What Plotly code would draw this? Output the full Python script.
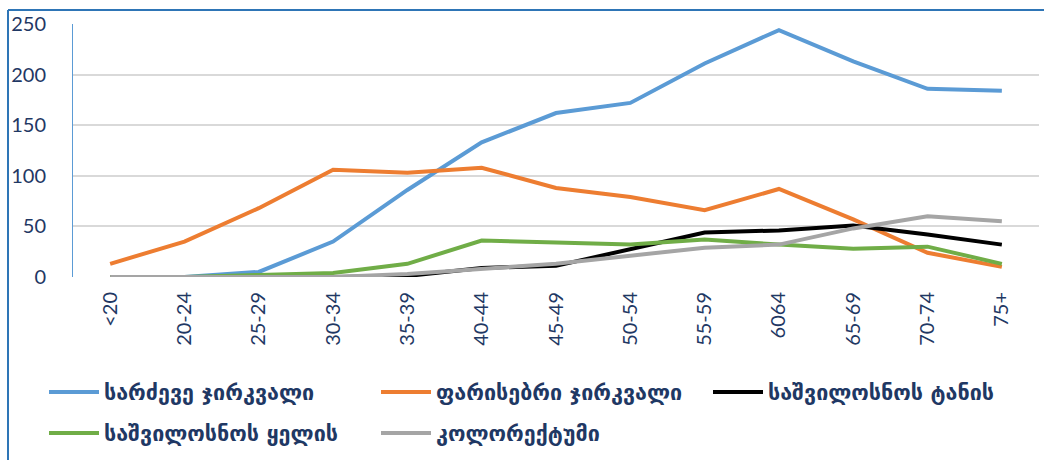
import plotly.graph_objects as go

categories = ["<20", "20-24", "25-29", "30-34", "35-39", "40-44", "45-49",
              "50-54", "55-59", "6064", "65-69", "70-74", "75+"]

breast = [0, 0, 5, 35, 86, 133, 162, 172, 211, 244, 213, 186, 184]
cervix_body = [13, 35, 68, 106, 103, 108, 88, 79, 66, 87, 57, 24, 10]
uterus_body = [0, 0, 0, 0, 1, 9, 11, 27, 44, 46, 51, 42, 32]
uterus_neck = [0, 0, 2, 4, 13, 36, 34, 32, 37, 32, 28, 30, 13]
colorectum = [0, 0, 0, 0, 3, 8, 13, 21, 29, 32, 48, 60, 55]

series_names = ["სარძევე ჯირკვალი", "ფარისებრი ჯირკვალი", "საშვილოსნოს ტანის",
                "საშვილოსნოს ყელის", "კოლორექტუმი"]
series_values = [breast, cervix_body, uterus_body, uterus_neck, colorectum]
series_colors = ["#5B9BD5", "#ED7D31", "#000000", "#70AD47", "#A5A5A5"]
series_legend = ["legend", "legend", "legend", "legend2", "legend2"]

y_ticks = [0, 50, 100, 150, 200, 250]

NAVY = "#1F3864"

fig = go.Figure()
for name, vals, col, lg in zip(series_names, series_values, series_colors, series_legend):
    fig.add_trace(go.Scatter(
        x=categories, y=vals, name="<b>" + name + "</b>", mode="lines",
        line=dict(color=col, width=4), legend=lg,
    ))

W, H = 1044, 460
ml, mr, mt, mb = 73, 5, 24, 183
pw = W - ml - mr
ph = H - mt - mb

def px_x(p):
    return (p - ml) / pw

def px_y(p):
    return (H - mb - p) / ph

legend_font = dict(family="DejaVu Sans", size=21.5, color=NAVY)

fig.update_layout(
    width=W, height=H,
    margin=dict(l=ml, r=mr, t=mt, b=mb),
    paper_bgcolor="white", plot_bgcolor="white",
    showlegend=True,
    xaxis=dict(
        type="category", categoryorder="array", categoryarray=categories,
        range=[-0.5, len(categories) - 0.5],
        tickangle=-90, showgrid=False, showline=False, zeroline=False,
        ticks="", tickfont=dict(family="Lato", size=20, color=NAVY),
        ticklabelstandoff=10,
    ),
    yaxis=dict(
        range=[0, 250], tickvals=y_ticks, showgrid=True, gridcolor="#D9D9D9",
        gridwidth=1.5, zeroline=False, showline=True, linecolor="#5B9BD5", linewidth=1,
        ticks="", tickfont=dict(family="Lato", size=20, color=NAVY),
        ticklabelstandoff=22,
    ),
    legend=dict(
        orientation="h", x=px_x(44), y=px_y(392), xanchor="left", yanchor="middle",
        entrywidth=267, entrywidthmode="pixels", itemwidth=50, font=legend_font,
        bgcolor="rgba(0,0,0,0)",
    ),
    legend2=dict(
        orientation="h", x=px_x(44), y=px_y(433), xanchor="left", yanchor="middle",
        entrywidth=267, entrywidthmode="pixels", itemwidth=50, font=legend_font,
        bgcolor="rgba(0,0,0,0)",
    ),
    shapes=[
        dict(type="line", xref="paper", yref="paper",
             x0=px_x(8), x1=px_x(8), y0=px_y(H), y1=px_y(10),
             line=dict(color="#2E75B6", width=2)),
        dict(type="line", xref="paper", yref="paper",
             x0=px_x(8), x1=px_x(W), y0=px_y(10), y1=px_y(10),
             line=dict(color="#2E75B6", width=2)),
    ],
)

fig.write_html("out.html")
